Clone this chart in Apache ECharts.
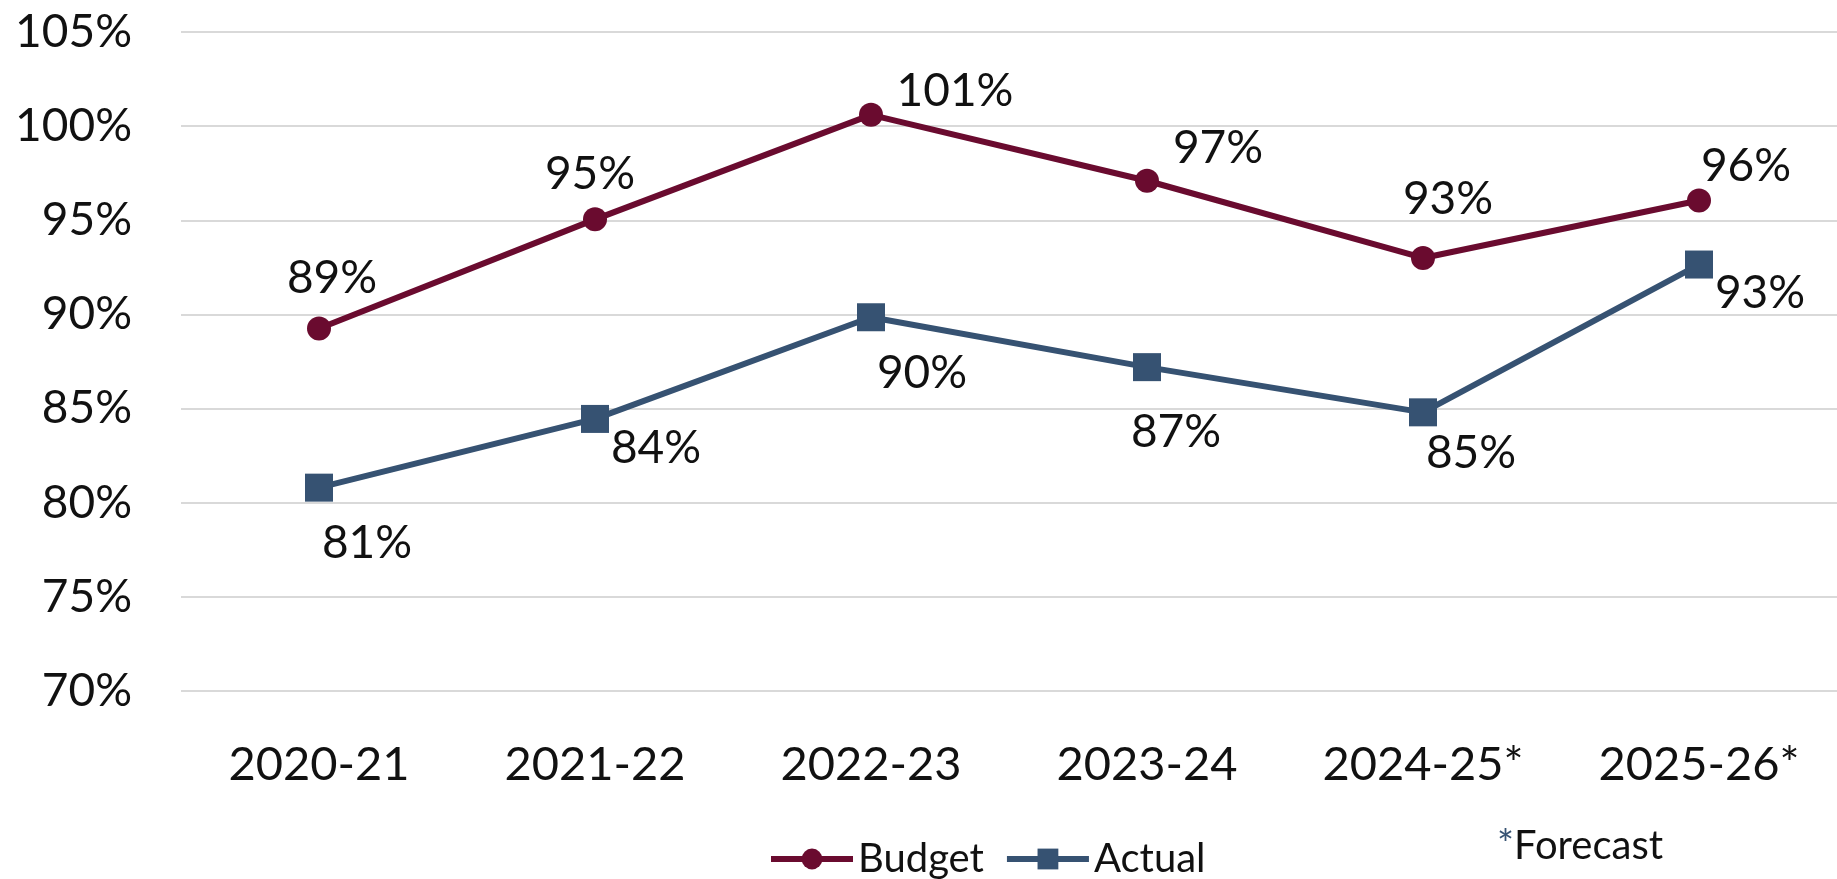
<!DOCTYPE html>
<html>
<head>
<meta charset="utf-8">
<title>Budget vs Actual</title>
<script src="https://cdn.jsdelivr.net/npm/echarts@6/dist/echarts.min.js"></script>
<style>
	html, body { margin: 0; padding: 0; background: #fff; }
	#chart { width: 1837px; height: 879px; }
</style>
</head>
<body>
<div id="chart"></div>
<script>
	// 数据
	var years = ['2020-21', '2021-22', '2022-23', '2023-24', '2024-25*', '2025-26*'];
	var budget = [89.25, 95.05, 100.6, 97.1, 93.0, 96.05];
	var actual = [80.8, 84.45, 89.85, 87.2, 84.8, 92.65];
	var yTicks = [70, 75, 80, 85, 90, 95, 100, 105];

	// 标签偏移（只是版式）
	var budgetLabelOffset = [[13, -50], [-5, -45], [84, -24], [71, -33], [25, -59], [47, -34]];
	var actualLabelOffset = [[48, 56], [61, 29], [51, 56], [29, 65], [48, 41], [61, 29]];

	var fontName = 'Lato';
	var budgetColor = '#6A0B2F';
	var actualColor = '#365272';

	function withLabels(values, offsets) {
		var list = [];
		for (var i = 0; i < values.length; i++) {
			list.push({
				value: values[i],
				label: { offset: offsets[i] }
			});
		}
		return list;
	}

	var myChart = echarts.init(document.getElementById('chart'));

	var labelStyle = {
		show: true,
		position: 'inside',
		align: 'center',
		verticalAlign: 'middle',
		fontFamily: fontName,
		fontSize: 46,
		color: '#111',
		formatter: function(p) { return Math.round(p.value) + '%'; }
	};

	var option = {
		animation: false,
		grid: {
			left: 181,
			right: -12,
			top: 32,
			bottom: 188,
			containLabel: false
		},
		legend: {
			left: 763,
			top: 834,
			itemWidth: 82,
			itemHeight: 26,
			itemGap: 20,
			lineStyle: { width: 6 },
			textStyle: { fontFamily: fontName, fontSize: 40, color: '#111' },
			data: ['Budget', 'Actual']
		},
		graphic: [{
			type: 'text',
			left: 1497,
			top: 826,
			style: {
				text: '{a|*}{b|Forecast}',
				rich: {
					a: { fontFamily: fontName, fontSize: 40, fill: actualColor },
					b: { fontFamily: fontName, fontSize: 40, fill: '#111' }
				}
			}
		}],
		xAxis: {
			type: 'category',
			data: years,
			boundaryGap: true,
			axisLine: { show: false },
			axisTick: { show: false },
			axisLabel: { fontFamily: fontName, fontSize: 47, color: '#111', margin: 50 }
		},
		yAxis: {
			type: 'value',
			min: yTicks[0],
			max: yTicks[yTicks.length - 1],
			interval: 5,
			axisLine: { show: false },
			axisTick: { show: false },
			splitLine: { lineStyle: { color: '#D9D9D9', width: 2 } },
			axisLabel: {
				fontFamily: fontName,
				fontSize: 46,
				color: '#111',
				margin: 49,
				formatter: '{value}%'
			}
		},
		series: [{
			name: 'Budget',
			type: 'line',
			symbol: 'circle',
			symbolSize: 24,
			itemStyle: { color: budgetColor },
			lineStyle: { color: budgetColor, width: 6 },
			label: labelStyle,
			data: withLabels(budget, budgetLabelOffset)
		}, {
			name: 'Actual',
			type: 'line',
			symbol: 'rect',
			symbolSize: 28,
			itemStyle: { color: actualColor },
			lineStyle: { color: actualColor, width: 6 },
			label: labelStyle,
			data: withLabels(actual, actualLabelOffset)
		}]
	};

	myChart.setOption(option);
</script>
</body>
</html>
